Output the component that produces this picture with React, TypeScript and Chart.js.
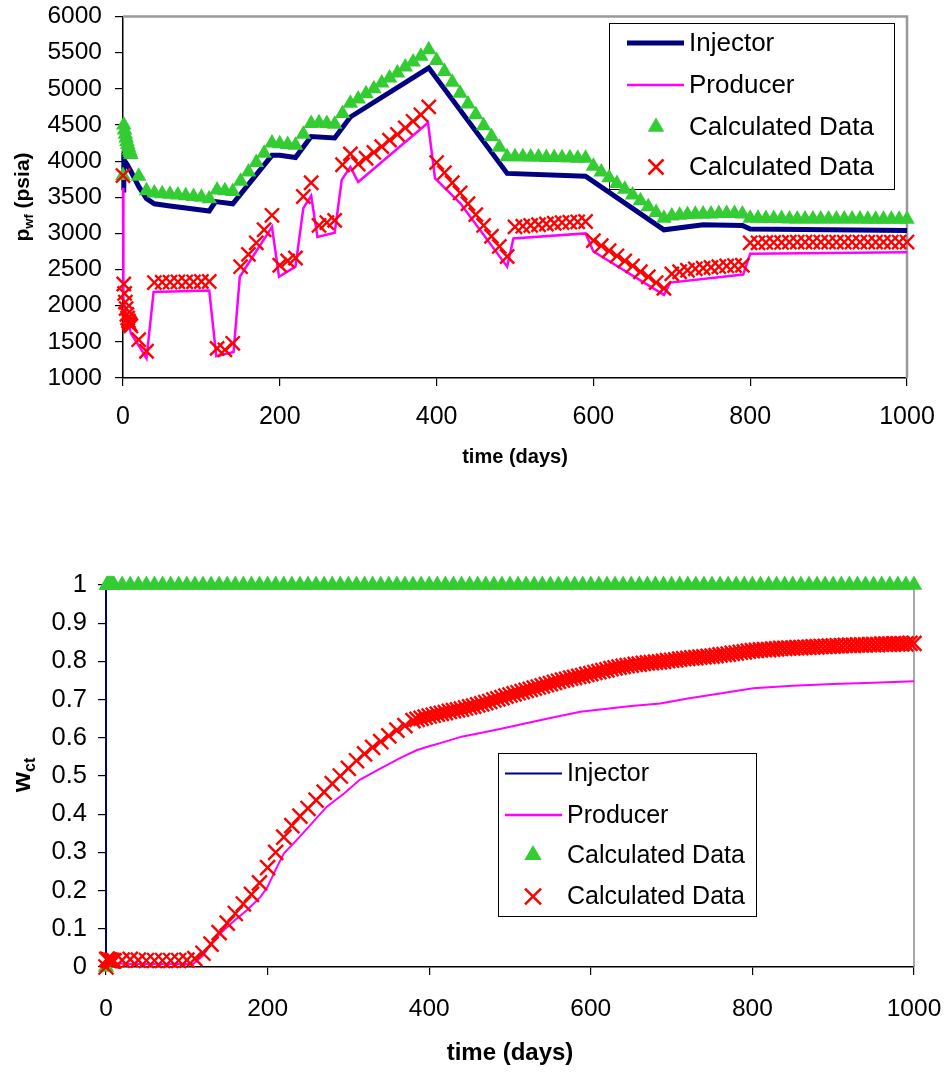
import React, { useEffect, useRef } from 'react';
import { Chart, registerables } from 'chart.js';

Chart.register(...registerables);

const FONT = "'Liberation Sans', Arial, Helvetica, sans-serif";

// ---------- Panel 1: bottom-hole flowing pressure (psia) ----------
const injLineDays = [0, 1, 5, 10, 20, 30, 40, 60, 80, 110, 118, 140, 190, 200, 220, 240, 270, 290, 390, 490, 590, 690, 740, 790, 800, 1000];
const injLinePwf = [3600, 4020, 3960, 3860, 3650, 3480, 3410, 3380, 3350, 3310, 3440, 3410, 4080, 4080, 4050, 4340, 4320, 4610, 5290, 3830, 3790, 3050, 3120, 3110, 3060, 3040];

const prodLineDays = [0, 0.5, 10, 20, 30, 39, 110, 119, 141, 149, 190, 199, 220, 230, 240, 248, 270, 279, 290, 300, 389, 398, 430, 490, 498, 590, 600, 690, 698, 791, 800, 1000];
const prodLinePwf = [3630, 2080, 1620, 1450, 1270, 2190, 2210, 1300, 1360, 2400, 3090, 2400, 2540, 3350, 3520, 2950, 3010, 3740, 3920, 3710, 4530, 3760, 3420, 2540, 2930, 3000, 2750, 2150, 2320, 2430, 2720, 2740];

// report times shared by the calculated points of both panels
const sampleDays = [0, 1, 2, 3, 4, 5, 6, 7, 8, 9, 10, 20, 30, 40, 50, 60, 70, 80, 90, 100, 110, 120, 130, 140, 150, 160, 170, 180, 190, 200, 210, 220, 230, 240, 250, 260, 270, 280, 290, 300, 310, 320, 330, 340, 350, 360, 370, 380, 390, 400, 410, 420, 430, 440, 450, 460, 470, 480, 490, 500, 510, 520, 530, 540, 550, 560, 570, 580, 590, 600, 610, 620, 630, 640, 650, 660, 670, 680, 690, 700, 710, 720, 730, 740, 750, 760, 770, 780, 790, 800, 810, 820, 830, 840, 850, 860, 870, 880, 890, 900, 910, 920, 930, 940, 950, 960, 970, 980, 990, 1000];

const injCalcPwf = [
  3800, 4500, 4430, 4370, 4320, 4270, 4230, 4190, 4150, 4120, 4090,
  3790, 3590,
  3560, 3550, 3540, 3530, 3520, 3510, 3500, 3480,
  3600, 3590, 3580,
  3720, 3850, 3980, 4110, 4250,
  4240, 4230, 4220,
  4370, 4520,
  4530, 4520, 4510,
  4660, 4800,
  4860, 4930, 5000, 5080, 5150, 5220, 5300, 5370, 5450, 5540,
  5390, 5240, 5090, 4940, 4790, 4640, 4490, 4340, 4190, 4060,
  4060, 4060, 4055, 4055, 4050, 4050, 4045, 4045, 4040, 4040,
  3930, 3850, 3770, 3690, 3610, 3530, 3450, 3370, 3290, 3210,
  3240, 3250, 3260, 3265, 3270, 3270, 3275, 3275, 3275, 3270,
  3210, 3210, 3205, 3205, 3205, 3200, 3200, 3200, 3200, 3200, 3200, 3200, 3200, 3200, 3200, 3195, 3195, 3195, 3195, 3195, 3195,
];

const prodCalcPwf = [
  3800, 2300, 2170, 2050, 1960, 1880, 1830, 1790, 1760, 1740, 1720,
  1530, 1370,
  2320, 2325, 2325, 2330, 2330, 2330, 2335, 2335,
  1410, 1390, 1480,
  2540, 2710, 2870, 3050, 3250,
  2560, 2620, 2660,
  3510, 3700,
  3110, 3150, 3180,
  3950, 4100,
  3960, 4040, 4120, 4200, 4290, 4370, 4460, 4550, 4640, 4750,
  3980, 3840, 3700, 3560, 3410, 3260, 3110, 2960, 2820, 2680,
  3090, 3100, 3110, 3120, 3130, 3140, 3150, 3155, 3160, 3165,
  2900, 2830, 2760, 2690, 2620, 2550, 2470, 2400, 2320, 2240,
  2440, 2470, 2490, 2510, 2520, 2530, 2540, 2550, 2555, 2560,
  2870, 2870, 2875, 2875, 2875, 2880, 2880, 2880, 2880, 2880, 2880, 2880, 2880, 2880, 2880, 2880, 2880, 2880, 2880, 2880, 2880,
];

// ---------- Panel 2: water cut ----------
const wInjLineDays = [0, 0, 1000];
const wInjLineWct = [0, 1, 1];

const wProdLineDays = [0, 5, 30, 108, 120, 133, 145, 158, 175, 191, 200, 210, 220, 235, 250, 273, 295, 314, 340, 365, 385, 400, 420, 440, 465, 492, 520, 550, 587, 620, 650, 686, 720, 760, 801, 850, 900, 950, 1000];
const wProdLineWct = [0, 0.01, 0.008, 0.008, 0.03, 0.07, 0.095, 0.12, 0.15, 0.183, 0.21, 0.255, 0.297, 0.33, 0.365, 0.419, 0.455, 0.49, 0.52, 0.548, 0.568, 0.578, 0.59, 0.603, 0.613, 0.625, 0.638, 0.652, 0.668, 0.676, 0.683, 0.69, 0.703, 0.716, 0.73, 0.736, 0.741, 0.744, 0.748];

const wInjCalcWct = [
  0, 1, 1, 1, 1, 1, 1, 1, 1, 1, 1,
  1, 1, 1, 1, 1, 1, 1, 1, 1, 1,
  1, 1, 1, 1, 1, 1, 1, 1, 1, 1,
  1, 1, 1, 1, 1, 1, 1, 1, 1, 1,
  1, 1, 1, 1, 1, 1, 1, 1, 1, 1,
  1, 1, 1, 1, 1, 1, 1, 1, 1, 1,
  1, 1, 1, 1, 1, 1, 1, 1, 1, 1,
  1, 1, 1, 1, 1, 1, 1, 1, 1, 1,
  1, 1, 1, 1, 1, 1, 1, 1, 1, 1,
  1, 1, 1, 1, 1, 1, 1, 1, 1, 1,
  1, 1, 1, 1, 1, 1, 1, 1, 1,
];

const wProdCalcDays = [
  0, 1, 2, 3, 4, 5, 6, 7, 8, 9, 10,
  20, 30, 40, 50, 60, 70, 80, 90, 100, 110,
  120, 130, 140, 150, 160, 170, 180, 190, 200, 210, 220, 230, 240, 250, 260, 270, 280, 290, 300, 310, 320, 330, 340, 350, 360, 370, 380,
  385, 390, 395, 400, 405, 410, 415, 420, 425, 430, 435, 440, 445, 450, 455, 460, 465, 470, 475, 480, 485, 490, 495, 500,
  505, 510, 515, 520, 525, 530, 535, 540, 545, 550, 555, 560, 565, 570, 575, 580, 585, 590, 595, 600,
  605, 610, 615, 620, 625, 630, 635, 640, 645, 650, 655, 660, 665, 670, 675, 680, 685, 690, 695, 700,
  705, 710, 715, 720, 725, 730, 735, 740, 745, 750, 755, 760, 765, 770, 775, 780, 785, 790, 795, 800,
  805, 810, 815, 820, 825, 830, 835, 840, 845, 850, 855, 860, 865, 870, 875, 880, 885, 890, 895, 900,
  905, 910, 915, 920, 925, 930, 935, 940, 945, 950, 955, 960, 965, 970, 975, 980, 985, 990, 995, 1000,
];

const wProdCalcWct = [
  0, 0.02, 0.02, 0.018, 0.018, 0.017, 0.017, 0.017, 0.016, 0.016, 0.016,
  0.018, 0.02, 0.018, 0.017, 0.017, 0.017, 0.017, 0.017, 0.018, 0.022,
  0.036, 0.06, 0.09, 0.115, 0.14, 0.165, 0.19, 0.22, 0.26, 0.3, 0.34, 0.37, 0.395, 0.415, 0.437, 0.458, 0.48, 0.5, 0.52, 0.54, 0.558, 0.575, 0.59, 0.605, 0.62, 0.632, 0.645,
  0.648, 0.651, 0.654, 0.657, 0.659, 0.662, 0.664, 0.666, 0.669, 0.671, 0.673, 0.675, 0.678, 0.681, 0.683, 0.686, 0.689, 0.692, 0.695, 0.699, 0.702, 0.705, 0.709, 0.712,
  0.715, 0.718, 0.721, 0.724, 0.727, 0.73, 0.733, 0.736, 0.739, 0.742, 0.745, 0.748, 0.751, 0.753, 0.756, 0.758, 0.761, 0.763, 0.766, 0.768,
  0.771, 0.773, 0.776, 0.778, 0.781, 0.783, 0.785, 0.787, 0.789, 0.79, 0.792, 0.793, 0.795, 0.796, 0.797, 0.798, 0.799, 0.8, 0.802, 0.803,
  0.804, 0.806, 0.807, 0.808, 0.809, 0.81, 0.811, 0.812, 0.813, 0.814, 0.815, 0.817, 0.818, 0.819, 0.821, 0.822, 0.824, 0.825, 0.827, 0.828,
  0.829, 0.83, 0.831, 0.831, 0.832, 0.833, 0.834, 0.834, 0.835, 0.835, 0.836, 0.836, 0.837, 0.837, 0.838, 0.838, 0.839, 0.839, 0.84, 0.84,
  0.841, 0.841, 0.842, 0.842, 0.842, 0.843, 0.843, 0.843, 0.844, 0.844, 0.844, 0.845, 0.845, 0.845, 0.846, 0.846, 0.846, 0.846, 0.847, 0.847,
];

const seriesLabels = ['Injector', 'Producer', 'Calculated Data', 'Calculated Data'];

const NAVY = '#000080';
const MAGENTA = '#ff00ff';
const GREEN = '#33cc33';
const RED = '#ff0000';

const xy = (xs: number[], ys: number[]) => xs.map((x, i) => ({ x, y: ys[i] }));

function drawMarker(ctx: CanvasRenderingContext2D, style: string, x: number, y: number, r: number, color: string, lw: number) {
  ctx.save();
  if (style === 'triangle') {
    const h = r * Math.sin(Math.PI / 3);
    ctx.fillStyle = color;
    ctx.beginPath();
    ctx.moveTo(x, y - r);
    ctx.lineTo(x + h, y + r / 2);
    ctx.lineTo(x - h, y + r / 2);
    ctx.closePath();
    ctx.fill();
  } else {
    const d = r * Math.SQRT1_2;
    ctx.strokeStyle = color;
    ctx.lineWidth = lw;
    ctx.beginPath();
    ctx.moveTo(x - d, y - d);
    ctx.lineTo(x + d, y + d);
    ctx.moveTo(x - d, y + d);
    ctx.lineTo(x + d, y - d);
    ctx.stroke();
  }
  ctx.restore();
}

// frame, legend box and axis titles (y title carries a subscript)
const decorPlugin = {
  id: 'decor',
  beforeDatasetsDraw(chart: any, _a: any, o: any) {
    const { ctx, chartArea: a } = chart;
    ctx.save();
    ctx.strokeStyle = o.frameColor;
    ctx.lineWidth = o.frameWidth;
    ctx.beginPath();
    ctx.moveTo(a.left, a.top);
    ctx.lineTo(a.right, a.top);
    ctx.lineTo(a.right, a.bottom);
    ctx.stroke();
    const L = o.legend;
    ctx.strokeStyle = '#000';
    ctx.lineWidth = 1;
    ctx.strokeRect(L.left + 0.5, L.top + 0.5, L.width, L.height);
    ctx.restore();
  },
  afterDatasetsDraw(chart: any, _a: any, o: any) {
    const { ctx } = chart;
    const L = o.legend;
    ctx.save();
    chart.data.datasets.forEach((ds: any, i: number) => {
      const y = L.rows[i];
      if (ds.showLine) {
        ctx.strokeStyle = ds.borderColor;
        ctx.lineWidth = L.lineWidths[i];
        ctx.beginPath();
        ctx.moveTo(L.lineX0, y);
        ctx.lineTo(L.lineX1, y);
        ctx.stroke();
      } else {
        const color = ds.pointStyle === 'triangle' ? ds.backgroundColor : ds.borderColor;
        drawMarker(ctx, ds.pointStyle, L.markerX, y, L.markerR[ds.pointStyle], color, 2.5);
      }
      ctx.fillStyle = '#000';
      ctx.font = `${L.font}px ${FONT}`;
      ctx.textAlign = 'left';
      ctx.textBaseline = 'middle';
      ctx.fillText(ds.label, L.textX, y + 1);
    });

    // x axis title
    const xt = o.xTitle;
    ctx.font = `bold ${xt.size}px ${FONT}`;
    ctx.textAlign = 'center';
    ctx.textBaseline = 'middle';
    ctx.fillText(xt.text, xt.x, xt.y);

    // y axis title, rotated, with subscript
    const yt = o.yTitle;
    ctx.translate(yt.x, yt.y);
    ctx.rotate(-Math.PI / 2);
    ctx.textAlign = 'left';
    ctx.textBaseline = 'alphabetic';
    ctx.font = `bold ${yt.size}px ${FONT}`;
    const w1 = ctx.measureText(yt.main).width;
    const w3 = ctx.measureText(yt.rest).width;
    ctx.font = `bold ${yt.subSize}px ${FONT}`;
    const w2 = ctx.measureText(yt.sub).width;
    let u = -(w1 + w2 + w3) / 2;
    ctx.font = `bold ${yt.size}px ${FONT}`;
    ctx.fillText(yt.main, u, 0);
    u += w1;
    ctx.font = `bold ${yt.subSize}px ${FONT}`;
    ctx.fillText(yt.sub, u, yt.subShift);
    u += w2;
    ctx.font = `bold ${yt.size}px ${FONT}`;
    ctx.fillText(yt.rest, u, 0);
    ctx.restore();
  },
};

// x labels are pushed down through their line height (padding 0 keeps the
// plot width untouched); y labels use a tiny line height so the plot top is not pushed down
function makeScales(o: any) {
  return {
    x: {
      type: 'linear',
      min: 0,
      max: 1000,
      ticks: { stepSize: 200, color: '#000', font: { family: FONT, size: o.xFont, lineHeight: o.xLineHeight }, padding: 0, maxRotation: 0, autoSkip: false, callback: (v: number) => String(v) },
      grid: { display: true, drawOnChartArea: false, drawTicks: true, tickLength: 8, color: '#000', lineWidth: 1.2 },
      border: { display: true, color: '#000', width: 1.5 },
      afterFit: (s: any) => { s.height = o.xHeight; },
    },
    y: {
      type: 'linear',
      min: o.yMin,
      max: o.yMax,
      ticks: { stepSize: o.yStep, color: '#000', font: { family: FONT, size: o.yFont, lineHeight: 0.1 }, padding: o.yPad, autoSkip: false, callback: o.yFmt },
      grid: { display: true, drawOnChartArea: false, drawTicks: true, tickLength: 8, color: '#000', lineWidth: 1.2 },
      border: { display: true, color: '#000', width: 1.5 },
      afterFit: (s: any) => { s.width = o.yWidth; },
    },
  };
}

function pressureConfig(): any {
  return {
    type: 'scatter',
    data: {
      datasets: [
        { label: seriesLabels[0], data: xy(injLineDays, injLinePwf), showLine: true, borderColor: NAVY, borderWidth: 5, pointRadius: 0, tension: 0, order: 4, clip: false },
        { label: seriesLabels[1], data: xy(prodLineDays, prodLinePwf), showLine: true, borderColor: MAGENTA, borderWidth: 2.5, pointRadius: 0, tension: 0, order: 3, clip: false },
        { label: seriesLabels[2], data: xy(sampleDays, injCalcPwf), showLine: false, pointStyle: 'triangle', pointRadius: 9, backgroundColor: GREEN, borderColor: GREEN, borderWidth: 0, order: 2, clip: false },
        { label: seriesLabels[3], data: xy(sampleDays, prodCalcPwf), showLine: false, pointStyle: 'crossRot', pointRadius: 10, backgroundColor: RED, borderColor: RED, borderWidth: 2.4, order: 1, clip: false },
      ],
    },
    options: {
      animation: false,
      responsive: false,
      devicePixelRatio: 1,
      events: [],
      layout: { padding: { top: 16.5, right: 37, left: 0, bottom: 0 } },
      scales: makeScales({ yMin: 1000, yMax: 6000, yStep: 500, yFmt: (v: number) => String(v), xFont: 25, xLineHeight: 2.48, yFont: 24.5, yPad: 13, xHeight: 102, yWidth: 123 }),
      plugins: {
        legend: { display: false },
        tooltip: { enabled: false },
        decor: {
          frameColor: '#999999',
          frameWidth: 2.5,
          legend: { left: 609, top: 23, width: 285, height: 166, rows: [43, 85, 127, 167], lineWidths: [5, 2.5], lineX0: 627, lineX1: 684, markerX: 656, textX: 689, font: 26, markerR: { triangle: 9.6, crossRot: 10.6 } },
          xTitle: { text: 'time (days)', x: 515, y: 457, size: 20 },
          yTitle: { x: 29, y: 197, main: 'p', sub: 'wf', rest: ' (psia)', size: 21, subSize: 13, subShift: 4 },
        },
      },
    },
    plugins: [decorPlugin],
  };
}

function waterCutConfig(): any {
  return {
    type: 'scatter',
    data: {
      datasets: [
        { label: seriesLabels[0], data: xy(wInjLineDays, wInjLineWct), showLine: true, borderColor: NAVY, borderWidth: 2, pointRadius: 0, tension: 0, order: 4, clip: false },
        { label: seriesLabels[1], data: xy(wProdLineDays, wProdLineWct), showLine: true, borderColor: MAGENTA, borderWidth: 2, pointRadius: 0, tension: 0, order: 3, clip: false },
        { label: seriesLabels[2], data: xy(sampleDays, wInjCalcWct), showLine: false, pointStyle: 'triangle', pointRadius: 9.5, backgroundColor: GREEN, borderColor: GREEN, borderWidth: 0, order: 2, clip: false },
        { label: seriesLabels[3], data: xy(wProdCalcDays, wProdCalcWct), showLine: false, pointStyle: 'crossRot', pointRadius: 10.6, backgroundColor: RED, borderColor: RED, borderWidth: 2.4, order: 1, clip: false },
      ],
    },
    options: {
      animation: false,
      responsive: false,
      devicePixelRatio: 1,
      events: [],
      layout: { padding: { top: 85, right: 30, left: 0, bottom: 0 } },
      scales: makeScales({ yMin: 0, yMax: 1, yStep: 0.1, yFmt: (v: number) => String(Math.round(v * 10) / 10), xFont: 24.5, xLineHeight: 2.78, yFont: 25.5, yPad: 11, xHeight: 107, yWidth: 106 }),
      plugins: {
        legend: { display: false },
        tooltip: { enabled: false },
        decor: {
          frameColor: '#8c8c8c',
          frameWidth: 1.5,
          legend: { left: 498, top: 253, width: 258, height: 163, rows: [273.5, 315, 355, 396.5], lineWidths: [2, 2.5], lineX0: 505, lineX1: 562, markerX: 533, textX: 567, font: 25, markerR: { triangle: 10, crossRot: 11.3 } },
          xTitle: { text: 'time (days)', x: 510, y: 553, size: 24 },
          yTitle: { x: 30, y: 275, main: 'w', sub: 'ct', rest: '', size: 26, subSize: 16, subShift: 5 },
        },
      },
    },
    plugins: [decorPlugin],
  };
}

function ChartCanvas({ top, height, build }: { top: number; height: number; build: () => any }) {
  const ref = useRef<HTMLCanvasElement | null>(null);
  useEffect(() => {
    if (!ref.current) return;
    const chart = new Chart(ref.current, build());
    return () => chart.destroy();
  }, [build]);
  return (
    <canvas
      ref={ref}
      width={944}
      height={height}
      style={{ position: 'absolute', left: 0, top, width: 944, height, display: 'block' }}
    />
  );
}

export default function App() {
  return (
    <div style={{ position: 'absolute', left: 0, top: 0, width: 944, height: 1074, background: '#fff', overflow: 'hidden' }}>
      <ChartCanvas top={0} height={480} build={pressureConfig} />
      <ChartCanvas top={500} height={574} build={waterCutConfig} />
    </div>
  );
}
